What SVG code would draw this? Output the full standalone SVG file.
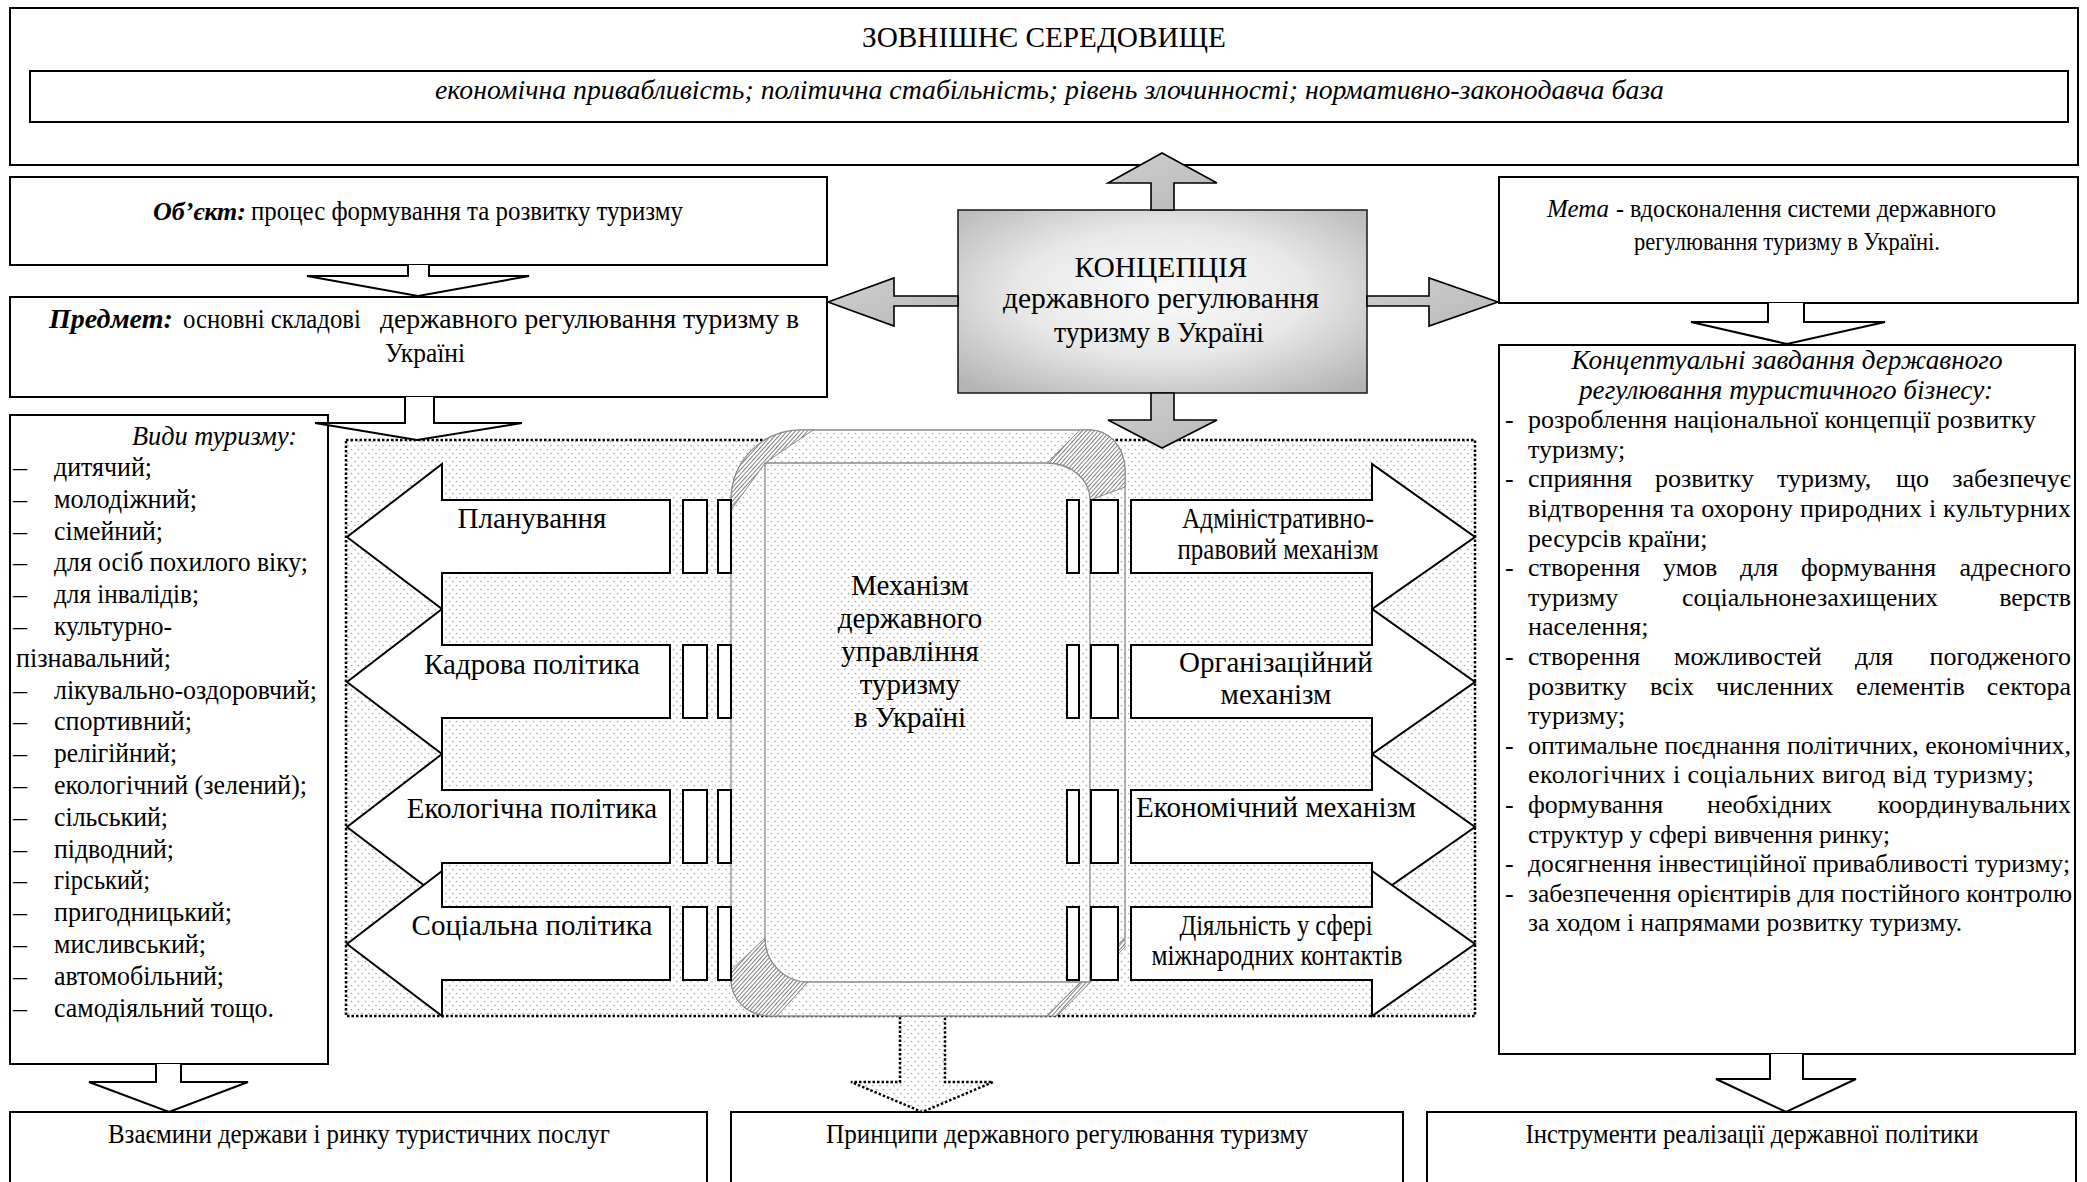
<svg xmlns="http://www.w3.org/2000/svg" width="2087" height="1182" viewBox="0 0 2087 1182" font-family="Liberation Serif, Times New Roman, serif">
<defs>
<style>
text{font-family:"Liberation Serif","Times New Roman",serif;fill:#000}
.box{fill:#fff;stroke:#000;stroke-width:2}
.arr{fill:#fff;stroke:#000;stroke-width:2;stroke-linejoin:miter}
.garr{fill:url(#gArr);stroke:#000;stroke-width:1.6;stroke-linejoin:miter}
.pin{fill:#fff;stroke:#000;stroke-width:2}
.mech{fill:url(#dots);stroke:#8a8a8a;stroke-width:1.3}
.hat{fill:url(#hatch);stroke:#8a8a8a;stroke-width:1}
.m{text-anchor:middle}
.e{text-anchor:end}
.i{font-style:italic}
.bi{font-style:italic;font-weight:bold}
.f25{font-size:25px}
.f26{font-size:26px}
.f27{font-size:27px}
.f28{font-size:28px}
.f29{font-size:29px}
.f30{font-size:30px}
</style>
<pattern id="dots" width="7" height="8" patternUnits="userSpaceOnUse">
<rect width="7" height="8" fill="#fff"/>
<circle cx="1.5" cy="1.5" r="0.85" fill="#a8a8a8"/>
<circle cx="5" cy="5.5" r="0.85" fill="#a8a8a8"/>
</pattern>
<pattern id="hatch" width="3" height="3" patternUnits="userSpaceOnUse" patternTransform="rotate(42)">
<rect width="3" height="3" fill="#fff"/>
<line x1="0.5" y1="0" x2="0.5" y2="3" stroke="#6f6f6f" stroke-width="0.9"/>
</pattern>
<radialGradient id="gBox" cx="50%" cy="45%" r="70%">
<stop offset="0" stop-color="#fbfbfb"/>
<stop offset="0.5" stop-color="#e8e8e8"/>
<stop offset="1" stop-color="#b4b4b4"/>
</radialGradient>
<linearGradient id="gArr" x1="0" y1="0" x2="1" y2="1">
<stop offset="0" stop-color="#cfcfcf"/>
<stop offset="1" stop-color="#b8b8b8"/>
</linearGradient>
</defs>

<rect width="2087" height="1182" fill="#fff"/>

<!-- External environment -->
<g id="env">
<rect class="box" x="10" y="8" width="2068" height="157"/>
<text class="f30 m" x="1044" y="47" textLength="364" lengthAdjust="spacingAndGlyphs">ЗОВНІШНЄ СЕРЕДОВИЩЕ</text>
<rect class="box" x="30" y="71" width="2038" height="51"/>
<text class="f28 i" x="435" y="99" textLength="1229" lengthAdjust="spacingAndGlyphs">економічна привабливість; політична стабільність; рівень злочинності; нормативно-законодавча база</text>
</g>

<!-- Object -->
<g id="object">
<rect class="box" x="10" y="177" width="817" height="88"/>
<text class="f26 bi" x="153" y="220">Об’єкт:</text>
<text class="f27" x="251" y="220" textLength="432" lengthAdjust="spacingAndGlyphs">процес формування та розвитку туризму</text>
</g>

<!-- Subject -->
<g id="subject">
<rect class="box" x="10" y="297" width="817" height="100"/>
<text class="f28 bi" x="49" y="328">Предмет:</text>
<text class="f27" x="183" y="328" textLength="178" lengthAdjust="spacingAndGlyphs">основні складові</text>
<text class="f27" x="380" y="328" textLength="419" lengthAdjust="spacingAndGlyphs">державного регулювання туризму в</text>
<text class="f27 m" x="425" y="362" textLength="80" lengthAdjust="spacingAndGlyphs">Україні</text>
</g>

<!-- Goal -->
<g id="goal">
<rect class="box" x="1499" y="177" width="579" height="126"/>
<text class="f25 i" x="1547" y="217" textLength="62" lengthAdjust="spacingAndGlyphs">Мета</text>
<text class="f25" x="1616" y="217" textLength="380" lengthAdjust="spacingAndGlyphs">- вдосконалення системи державного</text>
<text class="f25" x="1634" y="250" textLength="306" lengthAdjust="spacingAndGlyphs">регулювання туризму в Україні.</text>
</g>

<!-- Tasks -->
<g id="tasks">
<rect class="box" x="1499" y="345" width="576" height="709"/>
<text class="f27 i m" x="1787" y="369" textLength="431" lengthAdjust="spacingAndGlyphs">Концептуальні завдання державного</text>
<text class="f27 i m" x="1786" y="398.6" textLength="414" lengthAdjust="spacingAndGlyphs">регулювання туристичного бізнесу:</text>
<g class="f26">
<text x="1505" y="428.2">-</text>
<text x="1528" y="428.2">розроблення національної концепції розвитку</text>
<text x="1528" y="457.8">туризму;</text>
<text x="1505" y="487.4">-</text>
<text y="487.4"><tspan x="1528">сприяння</tspan><tspan x="1655">розвитку</tspan><tspan x="1777">туризму,</tspan><tspan x="1896">що</tspan></text>
<text class="e" x="2071" y="487.4">забезпечує</text>
<text x="1528" y="517" textLength="543">відтворення та охорону природних і культурних</text>
<text x="1528" y="546.6">ресурсів країни;</text>
<text x="1505" y="576.2">-</text>
<text y="576.2"><tspan x="1528">створення</tspan><tspan x="1663">умов</tspan><tspan x="1740">для</tspan><tspan x="1801">формування</tspan></text>
<text class="e" x="2071" y="576.2">адресного</text>
<text y="605.8"><tspan x="1528">туризму</tspan><tspan x="1682">соціальнонезахищених</tspan></text>
<text class="e" x="2071" y="605.8">верств</text>
<text x="1528" y="635.4">населення;</text>
<text x="1505" y="665">-</text>
<text y="665"><tspan x="1528">створення</tspan><tspan x="1674">можливостей</tspan><tspan x="1855">для</tspan></text>
<text class="e" x="2071" y="665">погодженого</text>
<text y="694.6"><tspan x="1528">розвитку</tspan><tspan x="1650">всіх</tspan><tspan x="1716">численних</tspan><tspan x="1856">елементів</tspan></text>
<text class="e" x="2071" y="694.6">сектора</text>
<text x="1528" y="724.2">туризму;</text>
<text x="1505" y="753.8">-</text>
<text x="1528" y="753.8" textLength="543" lengthAdjust="spacingAndGlyphs">оптимальне поєднання політичних, економічних,</text>
<text x="1528" y="783.4" textLength="506">екологічних і соціальних вигод від туризму;</text>
<text x="1505" y="813">-</text>
<text y="813"><tspan x="1528">формування</tspan><tspan x="1707">необхідних</tspan></text>
<text class="e" x="2071" y="813">координувальних</text>
<text x="1528" y="842.6" textLength="362" lengthAdjust="spacingAndGlyphs">структур у сфері вивчення ринку;</text>
<text x="1505" y="872.2">-</text>
<text x="1528" y="872.2" textLength="542" lengthAdjust="spacingAndGlyphs">досягнення інвестиційної привабливості туризму;</text>
<text x="1505" y="901.8">-</text>
<text x="1528" y="901.8" textLength="544" lengthAdjust="spacingAndGlyphs">забезпечення орієнтирів для постійного контролю</text>
<text x="1528" y="931.4" textLength="434" lengthAdjust="spacingAndGlyphs">за ходом і напрямами розвитку туризму.</text>
</g>
</g>

<!-- Types of tourism -->
<g id="types">
<rect class="box" x="10" y="415" width="318" height="649"/>
<text class="f28 i" x="132" y="445" textLength="165" lengthAdjust="spacingAndGlyphs">Види туризму:</text>
<g class="f28">
<text x="13" y="476">–</text><text x="54" y="476" textLength="98" lengthAdjust="spacingAndGlyphs">дитячий;</text>
<text x="13" y="507.8">–</text><text x="54" y="507.8" textLength="143" lengthAdjust="spacingAndGlyphs">молодіжний;</text>
<text x="13" y="539.6">–</text><text x="54" y="539.6" textLength="109" lengthAdjust="spacingAndGlyphs">сімейний;</text>
<text x="13" y="571.4">–</text><text x="54" y="571.4" textLength="254" lengthAdjust="spacingAndGlyphs">для осіб похилого віку;</text>
<text x="13" y="603.2">–</text><text x="54" y="603.2" textLength="145" lengthAdjust="spacingAndGlyphs">для інвалідів;</text>
<text x="13" y="635">–</text><text x="54" y="635" textLength="118" lengthAdjust="spacingAndGlyphs">культурно-</text>
<text x="16" y="666.8" textLength="155" lengthAdjust="spacingAndGlyphs">пізнавальний;</text>
<text x="13" y="698.6">–</text><text x="54" y="698.6" textLength="263" lengthAdjust="spacingAndGlyphs">лікувально-оздоровчий;</text>
<text x="13" y="730.4">–</text><text x="54" y="730.4" textLength="138" lengthAdjust="spacingAndGlyphs">спортивний;</text>
<text x="13" y="762.2">–</text><text x="54" y="762.2" textLength="123" lengthAdjust="spacingAndGlyphs">релігійний;</text>
<text x="13" y="794">–</text><text x="54" y="794" textLength="253" lengthAdjust="spacingAndGlyphs">екологічний (зелений);</text>
<text x="13" y="825.8">–</text><text x="54" y="825.8" textLength="114" lengthAdjust="spacingAndGlyphs">сільський;</text>
<text x="13" y="857.6">–</text><text x="54" y="857.6" textLength="120" lengthAdjust="spacingAndGlyphs">підводний;</text>
<text x="13" y="889.4">–</text><text x="54" y="889.4" textLength="96" lengthAdjust="spacingAndGlyphs">гірський;</text>
<text x="13" y="921.2">–</text><text x="54" y="921.2" textLength="178" lengthAdjust="spacingAndGlyphs">пригодницький;</text>
<text x="13" y="953">–</text><text x="54" y="953" textLength="152" lengthAdjust="spacingAndGlyphs">мисливський;</text>
<text x="13" y="984.8">–</text><text x="54" y="984.8" textLength="170" lengthAdjust="spacingAndGlyphs">автомобільний;</text>
<text x="13" y="1016.6">–</text><text x="54" y="1016.6" textLength="220" lengthAdjust="spacingAndGlyphs">самодіяльний тощо.</text>
</g>
</g>

<!-- Mechanism area -->
<g id="mechanism-area">
<rect x="346" y="440" width="1129" height="576" fill="url(#dots)" stroke="#000" stroke-width="2.5" stroke-dasharray="2.5 2"/>
</g>

<!-- Left arrows -->
<g id="planning">
<path class="arr" d="M670,500 L442,500 L442,464 L347,537 L442,609 L442,573 L670,573 Z"/>
<text class="f29 m" x="532" y="528">Планування</text>
</g>
<g id="personnel">
<path class="arr" d="M670,645 L442,645 L442,609 L347,682 L442,754 L442,718 L670,718 Z"/>
<text class="f29 m" x="532" y="674">Кадрова політика</text>
</g>
<g id="ecology">
<path class="arr" d="M670,790 L442,790 L442,754 L347,827 L442,899 L442,863 L670,863 Z"/>
<text class="f29 m" x="532" y="818">Екологічна політика</text>
</g>
<g id="social">
<path class="arr" d="M670,907 L442,907 L442,871 L347,944 L442,1016 L442,980 L670,980 Z"/>
<text class="f29 m" x="532" y="935">Соціальна політика</text>
</g>

<!-- Right arrows -->
<g id="admin">
<path class="arr" d="M1131,500 L1372,500 L1372,464 L1475,537 L1372,609 L1372,573 L1131,573 Z"/>
<text class="f29 m" x="1278" y="528" textLength="192" lengthAdjust="spacingAndGlyphs">Адміністративно-</text>
<text class="f29 m" x="1278" y="559" textLength="201" lengthAdjust="spacingAndGlyphs">правовий механізм</text>
</g>
<g id="organizational">
<path class="arr" d="M1131,645 L1372,645 L1372,609 L1475,682 L1372,754 L1372,718 L1131,718 Z"/>
<text class="f29 m" x="1276" y="672">Організаційний</text>
<text class="f29 m" x="1276" y="704">механізм</text>
</g>
<g id="economic">
<path class="arr" d="M1131,790 L1372,790 L1372,754 L1475,827 L1372,899 L1372,863 L1131,863 Z"/>
<text class="f29 m" x="1276" y="817">Економічний механізм</text>
</g>
<g id="international">
<path class="arr" d="M1131,907 L1372,907 L1372,871 L1475,944 L1372,1016 L1372,980 L1131,980 Z"/>
<text class="f29 m" x="1276" y="935" textLength="193" lengthAdjust="spacingAndGlyphs">Діяльність у сфері</text>
<text class="f29 m" x="1277" y="965" textLength="251" lengthAdjust="spacingAndGlyphs">міжнародних контактів</text>
</g>

<!-- Central mechanism -->
<g id="mechanism">
<path class="mech" d="M801,430 L1090,430 A35,40 0 0 1 1125,470 L1125,938 L1047,1016 L770,1016 A39,36 0 0 1 731,980 L731,500 A70,70 0 0 1 801,430 Z"/>
<path class="hat" d="M731,500 A70,70 0 0 1 801,430 L813,430 L765,463 L731,510 Z"/>
<path class="hat" d="M1047,463 L1080,430 L1090,430 A35,40 0 0 1 1125,470 L1125,487 L1090,500 A43,37 0 0 0 1047,463 Z"/>
<path class="hat" d="M731,970 L765,938 A43,44 0 0 0 808,982 L777,1016 L770,1016 A39,36 0 0 1 731,980 Z"/>
<path class="hat" d="M1047,1016 L1125,938 L1125,947 L1057,1016 Z"/>
<path class="mech" d="M765,463 L1047,463 A43,37 0 0 1 1090,500 L1090,982 L808,982 A43,44 0 0 1 765,938 Z"/>
<text class="f29 m" x="910" y="595">Механізм</text>
<text class="f29 m" x="910" y="628">державного</text>
<text class="f29 m" x="910" y="661">управління</text>
<text class="f29 m" x="910" y="694">туризму</text>
<text class="f29 m" x="910" y="727">в Україні</text>
</g>

<!-- Pins -->
<g id="pins">
<rect class="pin" x="683" y="500" width="24" height="73"/><rect class="pin" x="718" y="500" width="13" height="73"/>
<rect class="pin" x="1067" y="500" width="12" height="73"/><rect class="pin" x="1091" y="500" width="27" height="73"/>
<rect class="pin" x="683" y="645" width="24" height="73"/><rect class="pin" x="718" y="645" width="13" height="73"/>
<rect class="pin" x="1067" y="645" width="12" height="73"/><rect class="pin" x="1091" y="645" width="27" height="73"/>
<rect class="pin" x="683" y="790" width="24" height="73"/><rect class="pin" x="718" y="790" width="13" height="73"/>
<rect class="pin" x="1067" y="790" width="12" height="73"/><rect class="pin" x="1091" y="790" width="27" height="73"/>
<rect class="pin" x="683" y="907" width="24" height="73"/><rect class="pin" x="718" y="907" width="13" height="73"/>
<rect class="pin" x="1067" y="907" width="12" height="73"/><rect class="pin" x="1091" y="907" width="27" height="73"/>
</g>

<!-- Concept -->
<g id="concept">
<rect x="958" y="210" width="409" height="183" fill="url(#gBox)" stroke="#222" stroke-width="1.6"/>
<text class="f30 m" x="1161" y="277" textLength="173" lengthAdjust="spacingAndGlyphs">КОНЦЕПЦІЯ</text>
<text class="f30 m" x="1161" y="308" textLength="316" lengthAdjust="spacingAndGlyphs">державного регулювання</text>
<text class="f30 m" x="1159" y="342" textLength="210" lengthAdjust="spacingAndGlyphs">туризму в Україні</text>
</g>

<!-- Bottom boxes -->
<g id="relations">
<rect class="box" x="10" y="1112" width="697" height="120"/>
<text class="f27 m" x="359" y="1143" textLength="502" lengthAdjust="spacingAndGlyphs">Взаємини держави і ринку туристичних послуг</text>
</g>
<g id="principles">
<rect class="box" x="731" y="1112" width="672" height="120"/>
<text class="f27 m" x="1067" y="1143" textLength="482" lengthAdjust="spacingAndGlyphs">Принципи державного регулювання туризму</text>
</g>
<g id="instruments">
<rect class="box" x="1427" y="1112" width="649" height="120"/>
<text class="f27 m" x="1752" y="1143" textLength="453" lengthAdjust="spacingAndGlyphs">Інструменти реалізації державної політики</text>
</g>

<!-- Connectors -->
<g id="connectors">
<path class="garr" d="M1151,210 L1151,183 L1108,183 L1162,153 L1217,183 L1174,183 L1174,210 Z"/>
<path class="garr" d="M1151,393 L1151,420 L1108,420 L1162,448 L1217,420 L1174,420 L1174,393 Z"/>
<path class="garr" d="M958,296 L894,296 L894,278 L828,302 L894,326 L894,306 L958,306 Z"/>
<path class="garr" d="M1367,296 L1429,296 L1429,278 L1498,302 L1429,326 L1429,306 L1367,306 Z"/>
<path class="arr" d="M408,265 L408,276 L307,276 L418,296 L529,276 L429,276 L429,265"/>
<path class="arr" d="M405,397 L405,423 L315,423 L417,440 L522,423 L434,423 L434,397"/>
<path class="arr" d="M156,1064 L156,1082 L89,1082 L169,1112 L248,1082 L181,1082 L181,1064"/>
<path class="arr" d="M1768,303 L1768,322 L1691,322 L1787,344 L1885,322 L1804,322 L1804,303"/>
<path class="arr" d="M1770,1054 L1770,1079 L1716,1079 L1786,1112 L1856,1079 L1803,1079 L1803,1054"/>
<path d="M900,1017 L900,1082 L851,1082 L922,1112 L993,1082 L945,1082 L945,1017" fill="url(#dots)" stroke="#000" stroke-width="2.5" stroke-dasharray="2.5 2"/>
</g>
</svg>
